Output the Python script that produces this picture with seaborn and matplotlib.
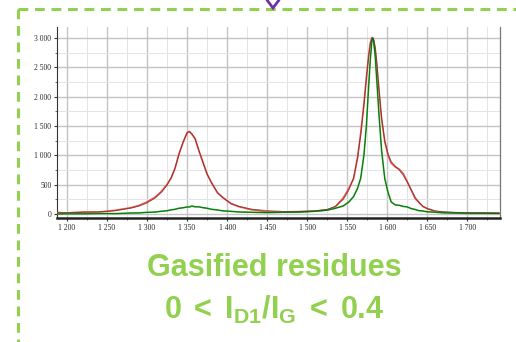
import matplotlib
matplotlib.use("Agg")
import matplotlib.pyplot as plt
from matplotlib.lines import Line2D
from matplotlib.ticker import MultipleLocator, FuncFormatter
import pandas as pd
import seaborn as sns

# Raman shift (cm-1) sample positions shared by all spectra
wavenumber = [1188, 1200, 1220, 1240, 1260, 1280, 1290, 1300, 1310, 1318, 1325, 1330,
              1335, 1340, 1345, 1350, 1353, 1356, 1360, 1365, 1370, 1375, 1380, 1388,
              1395, 1405, 1415, 1430, 1450, 1470, 1490, 1510, 1525, 1535, 1545, 1552,
              1558, 1563, 1567, 1571, 1574, 1577, 1579, 1581, 1582, 1583, 1585, 1587,
              1590, 1593, 1597, 1601, 1605, 1610, 1615, 1620, 1625, 1630, 1635, 1640,
              1645, 1650, 1660, 1670, 1685, 1700, 1720, 1740]

# Raw residue spectrum (red) and its fitted envelope
raw_red = [25, 18, 35, 33, 62, 108, 145, 205, 285, 385, 505, 610,
           780, 1030, 1220, 1390, 1410, 1360, 1290, 1070, 880, 680, 550, 360,
           280, 175, 125, 75, 40, 35, 40, 50, 70, 120, 270, 430,
           600, 960, 1380, 1880, 2320, 2720, 2920, 3010, 3000, 2970, 2830, 2560,
           2080, 1630, 1240, 1010, 870, 805, 765, 690, 555, 410, 265, 195,
           125, 95, 45, 30, 20, 15, 20, 15]
fit_red = [20, 22, 28, 38, 55, 100, 135, 185, 270, 370, 490, 620,
           790, 1020, 1230, 1375, 1400, 1375, 1280, 1080, 870, 690, 540, 370,
           270, 185, 130, 85, 60, 45, 45, 55, 80, 130, 240, 400,
           620, 950, 1350, 1850, 2300, 2700, 2900, 3000, 3010, 2990, 2850, 2600,
           2100, 1650, 1250, 1030, 900, 820, 750, 660, 550, 420, 290, 190,
           130, 90, 55, 40, 30, 25, 20, 18]

# Gasified residue spectrum (green) and its fitted envelope
raw_green = [0, 5, 2, 9, 6, 18, 17, 30, 32, 48, 55, 72,
             80, 100, 105, 122, 120, 140, 122, 124, 106, 100, 80, 70,
             52, 46, 33, 31, 22, 30, 30, 48, 66, 98, 135, 205,
             295, 440, 610, 1010, 1490, 2210, 2640, 2970, 3000, 2950, 2710, 2290,
             1660, 1090, 610, 370, 210, 155, 150, 128, 122, 92, 78, 55,
             52, 36, 32, 18, 18, 10, 12, 8]
fit_green = [0, 2, 4, 6, 9, 15, 20, 26, 35, 45, 57, 68,
             82, 96, 108, 118, 122, 125, 125, 120, 110, 97, 84, 68,
             56, 44, 36, 29, 26, 27, 33, 45, 65, 95, 140, 200,
             300, 430, 620, 1000, 1500, 2200, 2650, 2960, 3000, 2960, 2700, 2300,
             1650, 1100, 600, 380, 200, 160, 145, 135, 120, 95, 75, 60,
             50, 40, 30, 22, 16, 12, 10, 10]

x_ticks = [1200, 1250, 1300, 1350, 1400, 1450, 1500, 1550, 1600, 1650, 1700]
y_ticks = [0, 500, 1000, 1500, 2000, 2500, 3000]

sns.set_style("white")
plt.rcParams["font.family"] = ["Liberation Serif", "DejaVu Serif"]

fig = plt.figure(figsize=(5.16, 3.42), dpi=100)
ax = fig.add_axes([57 / 516, 1 - 218 / 342, (500 - 57) / 516, (218 - 27) / 342])

df = pd.DataFrame({"wn": wavenumber, "raw_red": raw_red, "fit_red": fit_red,
                   "raw_green": raw_green, "fit_green": fit_green})

sns.lineplot(data=df, x="wn", y="raw_red", ax=ax, color="#f0463e", lw=1.2, zorder=3)
sns.lineplot(data=df, x="wn", y="raw_green", ax=ax, color="#22c022", lw=1.2, zorder=3)
sns.lineplot(data=df, x="wn", y="fit_red", ax=ax, color="#303030", lw=0.6, alpha=0.6, zorder=4)
sns.lineplot(data=df, x="wn", y="fit_green", ax=ax, color="#202020", lw=0.6, alpha=0.65, zorder=4)

ax.set_xlim(1187.5, 1741)
ax.set_ylim(-68, 3191)
ax.set_xlabel("")
ax.set_ylabel("")

ax.set_xticks(x_ticks)
ax.set_yticks(y_ticks)
ax.xaxis.set_minor_locator(MultipleLocator(25))
ax.yaxis.set_minor_locator(MultipleLocator(250))
thousands = FuncFormatter(lambda v, p: f"{int(v):,}".replace(",", " "))
ax.xaxis.set_major_formatter(thousands)
ax.yaxis.set_major_formatter(thousands)

ax.grid(True, which="major", color="#c4c4c4", lw=1.0, zorder=0)
ax.grid(True, which="minor", color="#e4e4e4", lw=0.7, zorder=0)
ax.set_axisbelow(True)

ax.tick_params(axis="both", which="major", labelsize=5.5, length=2.5, width=0.8,
               color="#333333", pad=1.5, direction="out", left=True, bottom=True)
ax.tick_params(axis="both", which="minor", length=1.5, width=0.6, color="#555555",
               direction="out", left=True, bottom=True)

ax.spines["top"].set_visible(False)
ax.spines["left"].set_color("#333333")
ax.spines["left"].set_linewidth(0.8)
ax.spines["bottom"].set_color("#222222")
ax.spines["bottom"].set_linewidth(1.8)
ax.spines["right"].set_color("#777777")
ax.spines["right"].set_linewidth(0.9)

# Dashed frame around the panel
frame_green = "#92d050"
fig.add_artist(Line2D([18 / 516, 18 / 516], [1 - 9 / 342, 0], transform=fig.transFigure,
                      color=frame_green, lw=2.2, ls=(0, (3.2, 2.2))))
fig.add_artist(Line2D([18 / 516, 1], [1 - 9 / 342, 1 - 9 / 342], transform=fig.transFigure,
                      color=frame_green, lw=2.2, ls=(0, (3.2, 2.2))))
# Arrow tip pointing into the panel
fig.add_artist(Line2D([267 / 516, 273 / 516, 279 / 516],
                      [1 - 0 / 342, 1 - 8 / 342, 1 - 0 / 342], transform=fig.transFigure,
                      color="#7030a0", lw=2.0, solid_joinstyle="miter"))

plt.rcParams["mathtext.fontset"] = "custom"
plt.rcParams["mathtext.rm"] = "Liberation Sans:bold"
plt.rcParams["mathtext.it"] = "Liberation Sans:bold"
plt.rcParams["mathtext.bf"] = "Liberation Sans:bold"

fig.text(274 / 516, 1 - 268 / 342, "Gasified residues", ha="center", va="center",
         color=frame_green, fontsize=22, fontweight="bold",
         family=["Liberation Sans", "DejaVu Sans"])
fig.text(274 / 516, 1 - 310 / 342, r"$\mathrm{0\;<\;I_{D1}/I_{G}\;<\;0.4}$", ha="center",
         va="center", color=frame_green, fontsize=22)

fig.savefig("out.png", dpi=100)
